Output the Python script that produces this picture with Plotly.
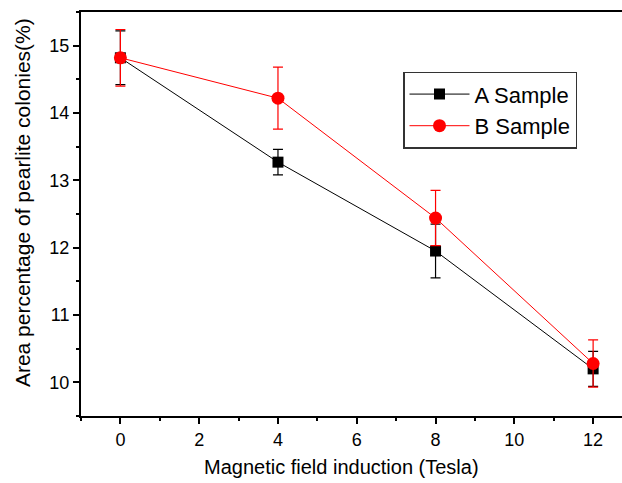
import plotly.graph_objects as go

# Magnetic field induction (Tesla)
field = [0, 4, 8, 12]

# Area percentage of pearlite colonies (%)
a_sample = [14.82, 13.27, 11.95, 10.20]
a_err = [0.40, 0.19, 0.40, 0.26]

b_sample = [14.82, 14.22, 12.44, 10.28]
b_err = [0.42, 0.46, 0.41, 0.35]

FONT = "Liberation Sans, Arial, sans-serif"

fig = go.Figure()

fig.add_trace(go.Scatter(
    name="A Sample",
    x=field,
    y=a_sample,
    mode="lines+markers",
    line=dict(color="black", width=1),
    marker=dict(symbol="square", size=11, color="black"),
    error_y=dict(type="data", array=a_err, color="black", thickness=1.2, width=5),
))

fig.add_trace(go.Scatter(
    name="B Sample",
    x=field,
    y=b_sample,
    mode="lines+markers",
    line=dict(color="red", width=1),
    marker=dict(symbol="circle", size=13, color="red"),
    error_y=dict(type="data", array=b_err, color="red", thickness=1.2, width=5),
))

axis_common = dict(
    showline=True,
    linecolor="black",
    linewidth=2,
    showgrid=False,
    zeroline=False,
    automargin=False,
    ticks="outside",
    ticklen=6,
    tickwidth=1.5,
    tickcolor="black",
    tickfont=dict(family=FONT, size=18, color="black"),
)

# the reference is cropped on the right, so the figure is wider than the window
fig.update_xaxes(
    **axis_common,
    range=[-1, 13.19],
    tickvals=[0, 2, 4, 6, 8, 10, 12],
    minor=dict(ticks="outside", ticklen=3, tickwidth=1.5, tickcolor="black", dtick=1, tick0=1),
    mirror=True,
)

fig.update_yaxes(
    **axis_common,
    range=[9.5, 15.5],
    tickvals=[10, 11, 12, 13, 14, 15],
    minor=dict(ticks="outside", ticklen=3, tickwidth=1.5, tickcolor="black", dtick=0.5, tick0=9.5),
)

# axis titles as annotations, placed where the (cropped) original had them
fig.add_annotation(
    text="Magnetic field induction (Tesla)",
    xref="paper", yref="paper",
    x=0.466, y=-0.126,
    xanchor="center", yanchor="middle",
    showarrow=False,
    font=dict(family=FONT, size=20, color="black"),
)
fig.add_annotation(
    text="Area percentage of pearlite colonies(%)",
    xref="paper", yref="paper",
    x=-0.1055, y=0.527,
    xanchor="center", yanchor="middle",
    textangle=-90,
    showarrow=False,
    font=dict(family=FONT, size=21, color="black"),
)

fig.update_layout(
    width=640,
    height=483,
    margin=dict(l=81, r=0, t=12, b=67),
    plot_bgcolor="white",
    paper_bgcolor="white",
    showlegend=True,
    legend=dict(
        x=322 / 559,
        y=0.852,
        xanchor="left",
        yanchor="top",
        bordercolor="#333333",
        borderwidth=1.5,
        bgcolor="white",
        font=dict(family=FONT, size=22, color="black"),
        itemwidth=60,
        tracegroupgap=0,
    ),
)

# drop the browser's default body margin so the figure starts at the window corner
fig.write_html(
    "out.html",
    config={"displayModeBar": False},
    post_script="document.body.style.margin='0';document.body.style.overflow='hidden';",
)
